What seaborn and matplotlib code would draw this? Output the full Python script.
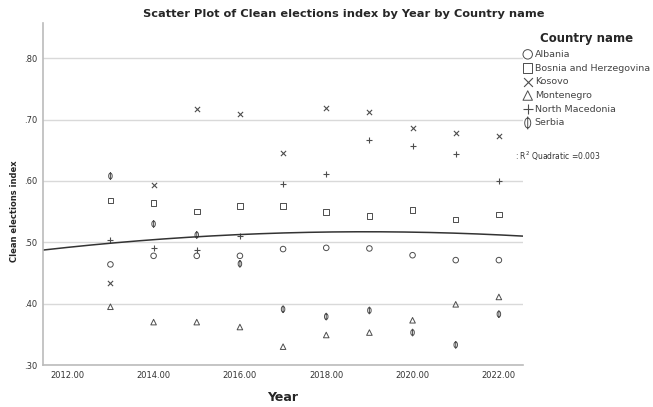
import numpy as np
import pandas as pd
import matplotlib
matplotlib.use("Agg")
import matplotlib.pyplot as plt
from matplotlib.path import Path
import seaborn as sns

years = [2013, 2014, 2015, 2016, 2017, 2018, 2019, 2020, 2021, 2022]
albania = [0.464, 0.478, 0.478, 0.478, 0.489, 0.491, 0.490, 0.479, 0.471, 0.471]
bosnia = [0.568, 0.564, 0.550, 0.559, 0.559, 0.549, 0.543, 0.553, 0.537, 0.545]
kosovo = [0.433, 0.594, 0.717, 0.709, 0.645, 0.719, 0.713, 0.686, 0.678, 0.674]
montenegro = [0.395, 0.370, 0.370, 0.362, 0.330, 0.349, 0.353, 0.373, 0.399, 0.411]
north_macedonia = [0.504, 0.490, 0.487, 0.511, 0.595, 0.611, 0.666, 0.657, 0.644, 0.600]
serbia = [0.608, 0.530, 0.512, 0.465, 0.391, 0.379, 0.389, 0.353, 0.333, 0.383]

countries = ["Albania", "Bosnia and Herzegovina", "Kosovo", "Montenegro",
             "North Macedonia", "Serbia"]
series = [albania, bosnia, kosovo, montenegro, north_macedonia, serbia]

df = pd.DataFrame({
    "Year": years * len(countries),
    "value": sum(series, []),
    "country": [c for c in countries for _ in years],
})

# serbia marker: narrow oval with a vertical stroke
circ = Path.unit_circle()
ell = Path(circ.vertices * [0.6, 1.0], circ.codes)
stroke = Path([[0, -1.3], [0, 1.3]], [Path.MOVETO, Path.LINETO])
serbia_marker = Path.make_compound_path(ell, stroke)

markers = {"Albania": "o", "Bosnia and Herzegovina": "s", "Kosovo": "x",
           "Montenegro": "^", "North Macedonia": "+", "Serbia": serbia_marker}
sizes = {"Albania": 16, "Bosnia and Herzegovina": 16, "Kosovo": 14,
         "Montenegro": 16, "North Macedonia": 16, "Serbia": 30}
gray = "#4d4d4d"

sns.set_style("white")
fig = plt.figure(figsize=(6.53, 4.07), dpi=100)
ax = fig.add_axes([0.066, 0.103, 0.735, 0.840])

for c in countries:
    sub = df[df["country"] == c]
    m = markers[c]
    if m in ("x", "+"):
        sns.scatterplot(data=sub, x="Year", y="value", marker=m, color=gray,
                        s=sizes[c], linewidth=0.8, label=c, ax=ax)
    else:
        sns.scatterplot(data=sub, x="Year", y="value", marker=m,
                        facecolor="none", edgecolor=gray, s=sizes[c],
                        linewidth=0.7, label=c, ax=ax)

# quadratic fit over all points
coef = np.polyfit(df["Year"], df["value"], 2)
grid = np.linspace(2011.44, 2022.56, 200)
fit = pd.DataFrame({"Year": grid, "value": np.polyval(coef, grid)})
sns.lineplot(data=fit, x="Year", y="value", color="#333333", linewidth=1.1,
             ax=ax, legend=False)
pred = np.polyval(coef, df["Year"])
r2 = 1 - ((df["value"] - pred) ** 2).sum() / ((df["value"] - df["value"].mean()) ** 2).sum()

ax.set_xlim(2011.44, 2022.56)
ax.set_ylim(0.30, 0.857)
ax.set_xticks([2012, 2014, 2016, 2018, 2020, 2022])
ax.set_xticklabels(["2012.00", "2014.00", "2016.00", "2018.00", "2020.00", "2022.00"],
                   fontsize=6, color="#333333")
ax.set_yticks([0.30, 0.40, 0.50, 0.60, 0.70, 0.80])
ax.set_yticklabels([".30", ".40", ".50", ".60", ".70", ".80"], fontsize=6, color="#333333")
ax.yaxis.grid(True, color="#d9d9d9", linewidth=1.0)
ax.set_axisbelow(True)
for s in ["top", "right"]:
    ax.spines[s].set_visible(False)
for s in ["left", "bottom"]:
    ax.spines[s].set_color("#bbbbbb")
    ax.spines[s].set_linewidth(1.2)
ax.tick_params(length=0, pad=4)

ax.set_xlabel("Year", fontsize=9, fontweight="bold", labelpad=8)
ax.set_ylabel("Clean elections index", fontsize=6, fontweight="bold", labelpad=8)
ax.yaxis.set_label_coords(-0.05, 0.45)

fig.text(0.527, 0.965, "Scatter Plot of Clean elections index by Year by Country name",
         ha="center", va="center", fontsize=8.2, fontweight="bold")

leg = ax.legend(loc="upper left", bbox_to_anchor=(0.993, 0.985), frameon=False,
                title="Country name", fontsize=6.8, markerscale=1.7,
                handletextpad=0.3, handlelength=0.9, labelspacing=0.5,
                borderaxespad=0.0)
leg.get_title().set_fontweight("bold")
leg.get_title().set_fontsize(8.5)
leg._legend_box.align = "center"
for t in leg.get_texts():
    t.set_color("#444444")

fig.text(0.789, 0.617, ": R$^2$ Quadratic =%.3f" % r2, fontsize=5.5, color="#333333",
         va="center")

fig.savefig("out.png", dpi=100)
